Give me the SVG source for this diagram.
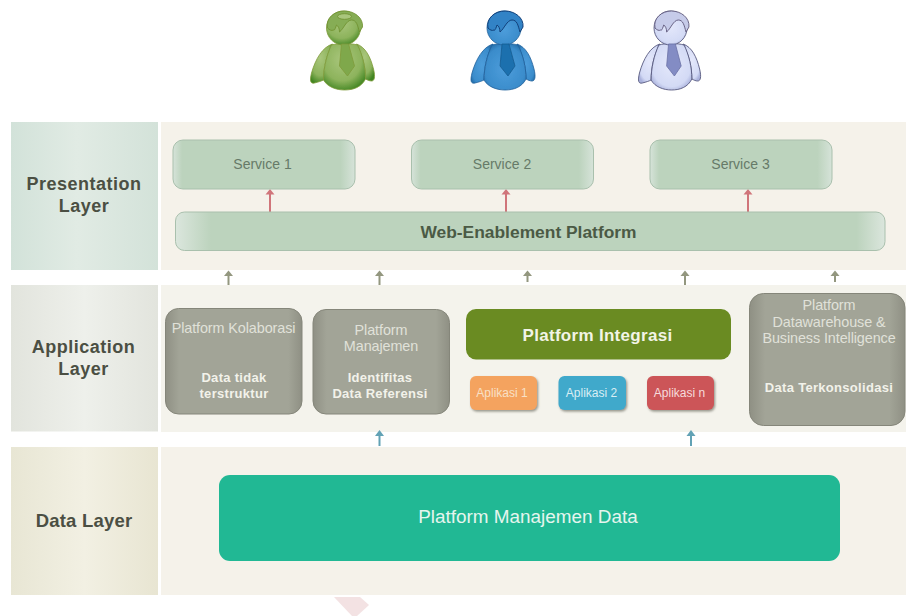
<svg xmlns="http://www.w3.org/2000/svg" xmlns:xlink="http://www.w3.org/1999/xlink" width="906" height="616" viewBox="0 0 906 616">
<style>
text{font-family:"Liberation Sans",Arial,sans-serif;text-anchor:middle}
.lay{font-size:18px;font-weight:700;fill:#4b4f43;letter-spacing:.5px}
.svc{font-size:14px;fill:#667a68}
.wp{font-size:17.400px;font-weight:700;fill:#4b5a45}
.pt{font-size:14.400px;fill:#e0e1d9;letter-spacing:-.1px}
.pb{font-size:13px;font-weight:700;fill:#f2f2ea;letter-spacing:.3px}
.ap{font-size:12px}
.svcbox{fill:url(#gSvc);stroke:#a9c0ad}
.gbox{fill:url(#gGrey);stroke:#85867a}
.panel{fill:#f5f2ea}
.conn line{stroke-width:2}
.red line{stroke:#d0757a}.red path{fill:#d0757a}
.gry line{stroke:#93977f}.gry path{fill:#93977f}
.blu line{stroke:#62a2b5}.blu path{fill:#62a2b5}
.ol{fill:none;stroke-width:.8}
</style>
<defs>
<linearGradient id="gPres"><stop offset="0" stop-color="#d2e2d9"/><stop offset=".45" stop-color="#e1ebe4"/><stop offset="1" stop-color="#d3e2d9"/></linearGradient>
<linearGradient id="gApp"><stop offset="0" stop-color="#e2e4dd"/><stop offset=".5" stop-color="#eef0eb"/><stop offset="1" stop-color="#e2e4dd"/></linearGradient>
<linearGradient id="gData"><stop offset="0" stop-color="#e8e6d4"/><stop offset=".5" stop-color="#f2f0e3"/><stop offset="1" stop-color="#e8e5d2"/></linearGradient>
<linearGradient id="gSvc"><stop offset="0" stop-color="#d6e3d9"/><stop offset=".05" stop-color="#bcd3bd"/><stop offset=".92" stop-color="#bcd3bd"/><stop offset="1" stop-color="#d6e3d9"/></linearGradient>
<linearGradient id="gWeb"><stop offset="0" stop-color="#dbe6dd"/><stop offset=".05" stop-color="#bcd3bd"/><stop offset=".96" stop-color="#bcd3bd"/><stop offset="1" stop-color="#dbe6dd"/></linearGradient>
<linearGradient id="gGrey"><stop offset="0" stop-color="#8f9084"/><stop offset=".1" stop-color="#a2a497"/><stop offset=".9" stop-color="#a2a497"/><stop offset="1" stop-color="#8f9084"/></linearGradient>
<radialGradient id="bB" cx=".5" cy=".55" r=".6"><stop offset="0" stop-color="#4d9ddb"/><stop offset=".8" stop-color="#3a8ccb"/><stop offset="1" stop-color="#2670ac"/></radialGradient>
<radialGradient id="bG" cx=".45" cy=".35" r=".7"><stop offset="0" stop-color="#a9c67c"/><stop offset=".65" stop-color="#8db35c"/><stop offset="1" stop-color="#3f8420"/></radialGradient>
<radialGradient id="bP" cx=".5" cy=".45" r=".6"><stop offset="0" stop-color="#e4e8fb"/><stop offset=".8" stop-color="#d3daf5"/><stop offset="1" stop-color="#aab2dc"/></radialGradient>
<filter id="soft" x="-10%" y="-10%" width="120%" height="120%"><feGaussianBlur stdDeviation=".45"/></filter>
<filter id="sh" x="-15%" y="-15%" width="130%" height="135%"><feDropShadow dx="1.2" dy="1.6" stdDeviation="1.2" flood-color="#77776c" flood-opacity=".75"/></filter>
<path id="armL" d="M22,33C12,36 5,48 1,62C-1,70 0,73 4,72C8,71 11,70 13,69C13,56 16,44 22,33Z"/>
<path id="armR" d="M46,33C55,36 60,46 63,58C65,66 64,70 61,70C59,70 57,69 55,68C55,56 52,44 46,33Z"/>
<path id="torso" d="M21,34C16,44 13,58 13,69C17,76 26,79 34,79C43,79 51,76 55,68C55,56 52,44 47,34C40,32 28,32 21,34Z"/>
<path id="tie" d="M31,33L38,33L44,55L37,65L29,55Z"/>
<ellipse id="head" cx="33" cy="17" rx="17" ry="17"/>
<path id="hair" d="M17,17C15,7 24,0 34,0C44,0 53,7 52,16L49,21C47,14 46,9 41,9C36,9 33,18 29,21C29,18 28,15 26,14C25,17 24,20 23,19C21,20 19,19 17,17Z"/>
</defs>

<rect width="906" height="616" fill="#fff"/>
<polygon points="334,597 360,597 369,605 357,616 352,616" fill="#f3e2e3"/>

<g id="person-green" transform="translate(310.500,11)" filter="url(#soft)">
<g fill="url(#bG)" stroke="#7f9a3a" stroke-width=".8"><use href="#armL"/><use href="#armR"/><use href="#torso"/><use href="#head"/></g>
<use href="#tie" fill="#7fa84c" stroke="#7f9a3a" stroke-width=".8"/>
<use href="#hair" fill="#86ad55" stroke="#6f8f2e" stroke-width=".8"/>
<ellipse cx="34" cy="5.500" rx="7" ry="2.800" fill="#a9c67c" stroke="#6f8f2e" stroke-width=".8"/>
</g>
<g id="person-blue" transform="translate(471,11)" filter="url(#soft)">
<g fill="url(#bB)" stroke="#1f5f9b" stroke-width=".8"><use href="#armL"/><use href="#armR"/><use href="#torso"/><use href="#head"/></g>
<use href="#tie" fill="#1a6fae" stroke="#195d92" stroke-width=".8"/>
<use href="#hair" fill="#3183c6" stroke="#12407a" stroke-width="1"/>
</g>
<g id="person-purple" transform="translate(638.500,11) scale(.97,1)" filter="url(#soft)">
<g fill="url(#bP)" stroke="#55577d" stroke-width=".9"><use href="#armL"/><use href="#armR"/><use href="#torso"/><use href="#head"/></g>
<use href="#tie" fill="#838cc4" stroke="#6a70a4" stroke-width=".8"/>
<use href="#hair" fill="#c6cbe9" stroke="#5c5578" stroke-width=".9"/>
</g>

<g id="presentation-layer">
<rect x="11" y="122" width="147" height="148" fill="url(#gPres)"/>
<rect x="161" y="122" width="745" height="148" class="panel"/>
<text class="lay" x="84" y="190">Presentation</text>
<text class="lay" x="84" y="212">Layer</text>
</g>
<g id="application-layer">
<rect x="11" y="285" width="147" height="146.500" fill="url(#gApp)"/>
<rect x="161" y="285" width="745" height="147" fill="#f4f3ec"/>
<text class="lay" x="83.500" y="353">Application</text>
<text class="lay" x="83.500" y="375">Layer</text>
</g>
<g id="data-layer">
<rect x="11" y="447" width="147" height="148" fill="url(#gData)"/>
<rect x="161" y="447" width="745" height="148" class="panel"/>
<text class="lay" x="84" y="527" style="font-size:18.500px;letter-spacing:.2px">Data Layer</text>
</g>

<g id="connectors" class="conn">
<g class="red">
<line x1="270" y1="212" x2="270" y2="192"/><path d="M265.500,194.500L270,189L274.500,194.500Z"/>
<line x1="506" y1="212" x2="506" y2="192"/><path d="M501.500,194.500L506,189L510.500,194.500Z"/>
<line x1="748" y1="212" x2="748" y2="192"/><path d="M743.500,194.500L748,189L752.500,194.500Z"/>
</g>
<g class="gry">
<line x1="228.500" y1="285" x2="228.500" y2="273"/><path d="M224,276L228.500,270.500L233,276Z"/>
<line x1="379.500" y1="285" x2="379.500" y2="273"/><path d="M375,276L379.500,270.500L384,276Z"/>
<line x1="527.500" y1="282" x2="527.500" y2="273"/><path d="M523,276L527.500,270.500L532,276Z"/>
<line x1="685" y1="285" x2="685" y2="273"/><path d="M680.500,276L685,270.500L689.500,276Z"/>
<line x1="835" y1="282" x2="835" y2="273"/><path d="M830.500,276L835,270.500L839.500,276Z"/>
</g>
<g class="blu">
<line x1="379.500" y1="446" x2="379.500" y2="433"/><path d="M375,436L379.500,430L384,436Z"/>
<line x1="691" y1="446" x2="691" y2="433"/><path d="M686.500,436L691,430L695.500,436Z"/>
</g>
</g>

<g id="service-1"><rect x="173" y="140" width="182" height="49" rx="10" class="svcbox"/><text class="svc" x="262.500" y="168.500">Service 1</text></g>
<g id="service-2"><rect x="411.500" y="140" width="182" height="49" rx="10" class="svcbox"/><text class="svc" x="502" y="168.500">Service 2</text></g>
<g id="service-3"><rect x="650" y="140" width="182" height="49" rx="10" class="svcbox"/><text class="svc" x="740.500" y="168.500">Service 3</text></g>
<g id="web-platform"><rect x="175.500" y="212" width="709.500" height="38.500" rx="9" fill="url(#gWeb)" stroke="#a9c0ad"/><text class="wp" x="528.500" y="237.500">Web-Enablement Platform</text></g>

<g id="platform-kolaborasi"><rect x="165.500" y="308.500" width="136.500" height="105.500" rx="13" class="gbox"/>
<text class="pt" x="233.500" y="333">Platform Kolaborasi</text>
<text class="pb" x="234" y="382">Data tidak</text><text class="pb" x="234" y="398">terstruktur</text></g>
<g id="platform-manajemen"><rect x="313" y="309.500" width="136.500" height="104.500" rx="13" class="gbox"/>
<text class="pt" x="381" y="335">Platform</text><text class="pt" x="381" y="351">Manajemen</text>
<text class="pb" x="380" y="382">Identifitas</text><text class="pb" x="380" y="398">Data Referensi</text></g>
<g id="platform-integrasi"><rect x="466" y="309" width="265" height="50.500" rx="10" fill="#6a8b22"/><text x="597.500" y="340.500" style="font-size:17px;font-weight:700;fill:#f2f4e6;letter-spacing:.3px">Platform Integrasi</text></g>
<g id="aplikasi-1"><rect x="470" y="376" width="67" height="34" rx="6" fill="#f4a35f" filter="url(#sh)"/><text class="ap" x="502" y="396.500" fill="#f8e0c6">Aplikasi 1</text></g>
<g id="aplikasi-2"><rect x="558.500" y="376" width="67.500" height="34" rx="6" fill="#3fa9cb" filter="url(#sh)"/><text class="ap" x="591.500" y="396.500" fill="#d9eef4">Aplikasi 2</text></g>
<g id="aplikasi-n"><rect x="647" y="376" width="67" height="34" rx="6" fill="#cc5458" filter="url(#sh)"/><text class="ap" x="679.500" y="396.500" fill="#f6dcdc">Aplikasi n</text></g>
<g id="platform-dw"><rect x="749.500" y="293.500" width="155.500" height="132" rx="14" class="gbox"/>
<text class="pt" x="829" y="310">Platform</text><text class="pt" x="829" y="326.500">Datawarehouse &amp;</text><text class="pt" x="829" y="343">Business Intelligence</text>
<text class="pb" x="829" y="391.500">Data Terkonsolidasi</text></g>

<g id="platform-data"><rect x="219" y="475" width="621" height="86" rx="11" fill="#21b894"/><text x="528" y="523" style="font-size:18.900px;fill:#e6f5ee">Platform Manajemen Data</text></g>
</svg>
